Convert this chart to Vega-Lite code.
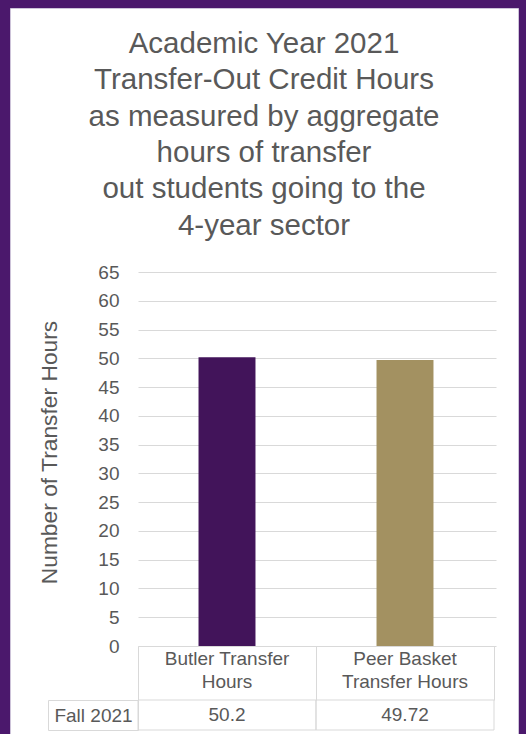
{
  "width": 508,
  "height": 726,
  "autosize": {"type": "none"},
  "padding": {"left": 10, "top": 8, "right": 8, "bottom": 0},
  "background": "#4B186C",
  "view": {"fill": "#ffffff", "stroke": "#cdc3d9", "strokeWidth": 1},
  "config": {"font": "Liberation Sans"},
  "title": {
    "text": ["Academic Year 2021", "Transfer-Out Credit Hours", "as measured by aggregate", "hours of transfer", "out students going to the", "4-year sector"],
    "fontSize": 29.5,
    "fontWeight": "normal",
    "color": "#595959",
    "lineHeight": 36.3,
    "anchor": "middle",
    "frame": "group",
    "offset": -242
  },
  "data": {
    "values": [
      {"category": "Butler Transfer Hours", "term": "Fall 2021", "hours": 50.2},
      {"category": "Peer Basket Transfer Hours", "term": "Fall 2021", "hours": 49.72}
    ]
  },
  "layer": [
    {
      "mark": {"type": "bar"},
      "encoding": {
        "x": {
          "field": "category", "type": "nominal", "sort": null,
          "scale": {"range": [128, 484], "paddingInner": 0.68, "paddingOuter": 0.34},
          "axis": {
            "orient": "bottom", "offset": -88, "title": null, "labelAngle": 0,
            "labelFontSize": 19, "labelColor": "#595959", "labelLineHeight": 23,
            "labelBaseline": "top", "labelPadding": 3,
            "labelExpr": "datum.label == 'Butler Transfer Hours' ? ['Butler Transfer', 'Hours'] : ['Peer Basket', 'Transfer Hours']",
            "ticks": false, "domain": false, "grid": false
          }
        },
        "y": {
          "field": "hours", "type": "quantitative",
          "scale": {"domain": [0, 65], "range": [638, 264], "nice": false},
          "axis": {
            "orient": "left", "offset": -128,
            "values": [0, 5, 10, 15, 20, 25, 30, 35, 40, 45, 50, 55, 60, 65],
            "grid": false, "domain": false, "ticks": true, "tickSize": -358,
            "tickColor": "#d9d9d9", "tickWidth": 1,
            "labelFontSize": 19, "labelColor": "#595959", "labelPadding": 377,
            "title": "Number of Transfer Hours", "titleFontSize": 22.8,
            "titleFontWeight": "normal", "titleColor": "#595959", "titlePadding": 36,
            "titleY": 444
          }
        },
        "color": {
          "field": "category", "type": "nominal", "sort": null,
          "scale": {"range": ["#42145A", "#A39161"]}, "legend": null
        }
      }
    },
    {
      "mark": {"type": "rect", "filled": false, "color": "#d9d9d9", "strokeWidth": 1},
      "encoding": {
        "x": {
          "field": "category", "type": "nominal", "sort": null,
          "scale": {"type": "band", "range": [128, 484], "paddingInner": 0, "paddingOuter": 0},
          "axis": {
            "orient": "bottom", "offset": -88, "title": null, "labels": false,
            "ticks": true, "tickBand": "extent", "tickSize": 54, "tickColor": "#d9d9d9",
            "domain": true, "domainColor": "#d9d9d9", "grid": false
          }
        },
        "y": {
          "field": "term", "type": "nominal",
          "scale": {"type": "band", "range": [692, 722], "paddingInner": 0, "paddingOuter": 0},
          "axis": {
            "orient": "left", "offset": -38, "labels": false, "ticks": false,
            "domain": true, "domainColor": "#d9d9d9", "title": null, "grid": false
          }
        }
      }
    },
    {
      "mark": {"type": "text", "fontSize": 19, "color": "#595959", "baseline": "middle", "align": "center"},
      "encoding": {
        "x": {
          "field": "category", "type": "nominal", "sort": null,
          "scale": {"type": "band", "range": [128, 484], "paddingInner": 0, "paddingOuter": 0},
          "axis": null
        },
        "y": {
          "field": "term", "type": "nominal",
          "scale": {"type": "band", "range": [692, 722], "paddingInner": 0, "paddingOuter": 0},
          "axis": {
            "orient": "left", "offset": -128, "title": null,
            "labelFontSize": 19, "labelColor": "#595959", "labelAlign": "center",
            "labelBaseline": "middle", "labelPadding": -45,
            "ticks": true, "tickBand": "extent", "tickSize": 90, "tickColor": "#d9d9d9",
            "domain": true, "domainColor": "#d9d9d9", "grid": false
          }
        },
        "text": {"field": "hours", "type": "quantitative"}
      }
    }
  ],
  "resolve": {
    "scale": {"x": "independent", "y": "independent", "color": "independent"},
    "axis": {"x": "independent", "y": "independent"}
  }
}
